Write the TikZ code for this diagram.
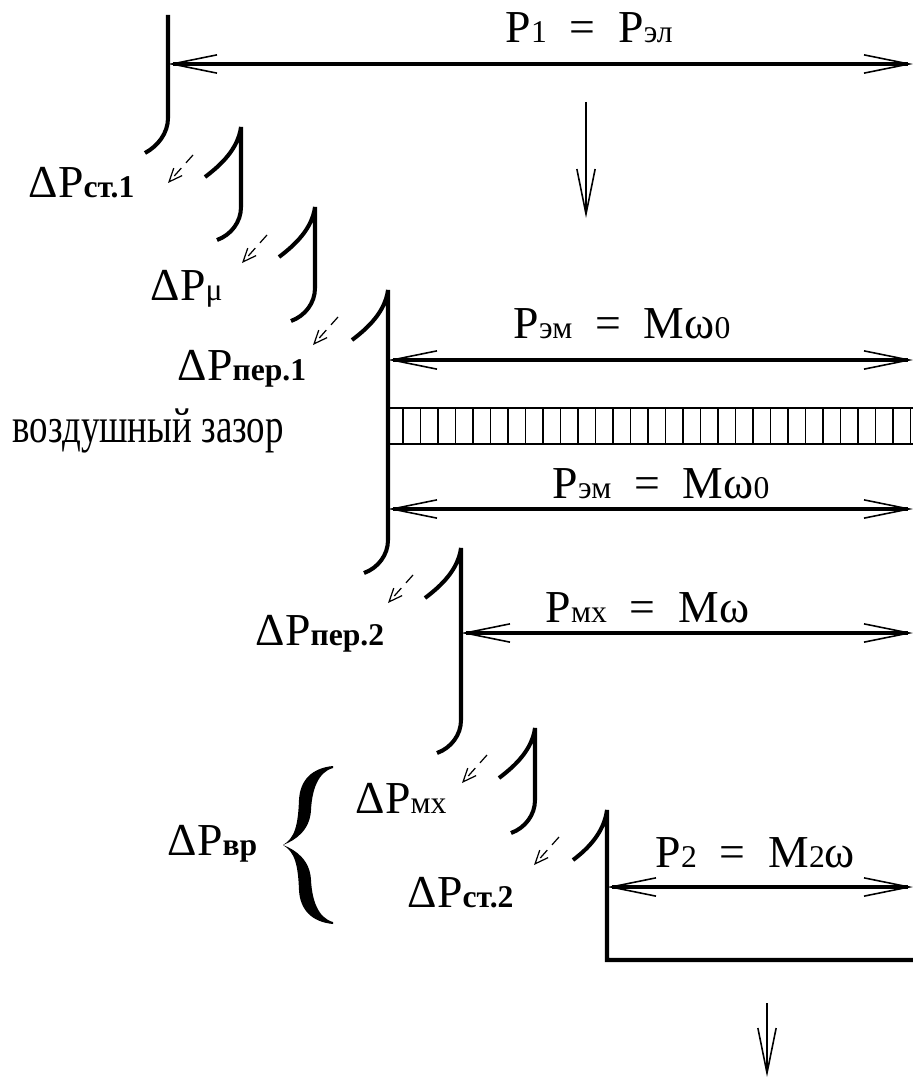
\documentclass[tikz,border=0pt]{standalone}
\usepackage{fontspec}
\setmainfont{Liberation Serif}
\usepackage{graphicx}
\usetikzlibrary{arrows.meta}
\newcommand{\idx}{\fontsize{9}{9}\selectfont}
\tikzset{
  wall/.style={line width=1.15pt},
  flow/.style={line width=1.15pt, <->},
  downflow/.style={line width=0.45pt, ->},
  loss/.style={line width=0.35pt, densely dashed, -{Straight Barb[length=3.8pt,width=3.2pt,line width'=0.35pt]}},
  lbl/.style={font=\fontsize{13}{13}\selectfont, inner sep=0pt, anchor=base west}
}
\begin{document}
\begin{tikzpicture}[x=0.01cm, y=-0.01cm, >={Straight Barb[length=12.8pt,width=5.2pt,line width'=0.45pt]}]
\useasboundingbox (0,0) rectangle (913,1079);
% ends of the power arrows
\coordinate (p1a) at (168,64);  \coordinate (p1b) at (913,64);
\coordinate (em1a) at (388,360); \coordinate (em1b) at (913,360);
\coordinate (em2a) at (388,509); \coordinate (em2b) at (913,509);
\coordinate (mha) at (461,633);  \coordinate (mhb) at (913,633);
\coordinate (p2a) at (607,887);  \coordinate (p2b) at (913,887);
\coordinate (d1a) at (586,102);  \coordinate (d1b) at (586,218);
\coordinate (d2a) at (767,1003); \coordinate (d2b) at (767,1077);
% stepped walls
\draw[wall] (168,15) -- (168,118) .. controls (168,133) and (158,146) .. (145,153);
\foreach \x/\t/\b in {241/127/207, 315/207/288, 388/290/540, 461/548/720, 535/728/800}
  \draw[wall] (\x-36,\t+50) .. controls (\x-20,\t+38) and (\x-3,\t+22) .. (\x,\t) -- (\x,\b)
    .. controls (\x,\b+15) and (\x-10,\b+28) .. (\x-24,\b+33);
\draw[wall] (573,860) .. controls (589,848) and (604,832) .. (607,810) -- (607,960) -- (913,960);
% air gap
\draw[line width=0.8pt] (388,408) -- (913,408) (388,444) -- (913,444);
\foreach \i in {0,...,29}
  \draw[line width=0.4pt] (403+17.5*\i,408) -- ++(0,36);
% power flows
\draw[flow] (p1a) -- (p1b);
\draw[flow] (em1a) -- (em1b);
\draw[flow] (em2a) -- (em2b);
\draw[flow] (mha) -- (mhb);
\draw[flow] (p2a) -- (p2b);
\draw[downflow] (d1a) -- (d1b);
\draw[downflow] (d2a) -- (d2b);
% losses
\foreach \x/\y in {193/155, 267/235, 338/317, 413/575, 487/755, 559/837}
  \draw[loss] (\x,\y) -- ++(-25,28);
\node[lbl] (p1) at (505,43) {P{\idx 1}\enspace=\enspace P{\idx эл}};
\node[lbl] (pem1) at (513,338) {P{\idx эм}\enspace=\enspace Mω{\idx 0}};
\node[lbl] (pem2) at (552,498) {P{\idx эм}\enspace=\enspace Mω{\idx 0}};
\node[lbl] (pmh) at (545,622) {P{\idx мх}\enspace=\enspace Mω};
\node[lbl] (p2) at (655,867) {P{\idx 2}\enspace=\enspace M{\idx 2}ω};
\node[lbl] (dst1) at (28,198) {ΔP{\idx\bfseries ст.1}};
\node[lbl] (dmu) at (150,300) {ΔP{\idx μ}};
\node[lbl] (dper1) at (177,380) {ΔP{\idx\bfseries пер.1}};
\node[lbl, font=\fontsize{14}{14}\selectfont] (gap) at (12,442) {\scalebox{0.75}[1]{воздушный зазор}};
\node[lbl] (dper2) at (255,645) {ΔP{\idx\bfseries пер.2}};
\node[lbl] (dmh) at (355,813) {ΔP{\idx мх}};
\node[lbl] (dvr) at (167,855) {ΔP{\idx\bfseries вр}};
\node[lbl] (dst2) at (407,907) {ΔP{\idx\bfseries ст.2}};
% brace
\fill (333,766) .. controls (312,768) and (300,780) .. (299,800) .. controls (298,825) and (295,838) .. (283,845)
  .. controls (296,840) and (310,830) .. (311,810) .. controls (312,790) and (318,772) .. (333,768) -- cycle;
\fill (333,924) .. controls (312,922) and (300,910) .. (299,890) .. controls (298,865) and (295,852) .. (283,845)
  .. controls (296,850) and (310,860) .. (311,880) .. controls (312,900) and (318,918) .. (333,922) -- cycle;
\end{tikzpicture}
\end{document}
